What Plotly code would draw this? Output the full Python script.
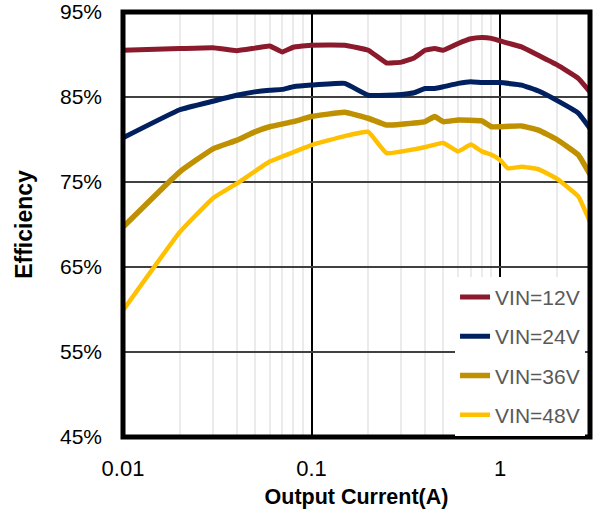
import plotly.graph_objects as go

# ---- data ----
x_12 = [0.01, 0.02, 0.03, 0.04, 0.05, 0.06, 0.07, 0.08, 0.1, 0.15, 0.2, 0.25, 0.3, 0.35,
        0.4, 0.45, 0.5, 0.6, 0.7, 0.8, 0.9, 1.0, 1.3, 1.6, 2.0, 2.6, 3.0]
eff_12 = [90.5, 90.7, 90.8, 90.45, 90.75, 91.0, 90.3, 90.85, 91.1, 91.1, 90.5, 89.0, 89.1, 89.6,
          90.5, 90.7, 90.5, 91.3, 91.85, 92.0, 91.9, 91.6, 90.9, 89.9, 88.8, 87.2, 85.6]

x_24 = [0.01, 0.02, 0.03, 0.04, 0.05, 0.06, 0.07, 0.08, 0.1, 0.15, 0.2, 0.25, 0.3, 0.35,
        0.4, 0.45, 0.5, 0.6, 0.7, 0.8, 1.0, 1.3, 1.6, 2.0, 2.6, 3.0]
eff_24 = [80.2, 83.5, 84.5, 85.2, 85.6, 85.8, 85.9, 86.2, 86.4, 86.6, 85.2, 85.2, 85.3, 85.5,
          86.0, 86.0, 86.2, 86.6, 86.8, 86.7, 86.7, 86.4, 85.7, 84.6, 83.1, 81.3]

x_36 = [0.01, 0.02, 0.03, 0.04, 0.05, 0.06, 0.08, 0.1, 0.15, 0.2, 0.25, 0.3, 0.4, 0.45,
        0.5, 0.6, 0.8, 0.9, 1.0, 1.3, 1.6, 2.0, 2.6, 3.0]
eff_36 = [69.7, 76.2, 78.9, 79.9, 80.9, 81.5, 82.1, 82.7, 83.2, 82.5, 81.7, 81.8, 82.1, 82.7,
          82.1, 82.3, 82.2, 81.5, 81.5, 81.6, 81.1, 80.0, 78.2, 75.9]

x_48 = [0.01, 0.02, 0.03, 0.04, 0.06, 0.07, 0.1, 0.15, 0.2, 0.25, 0.4, 0.5, 0.6, 0.7,
        0.8, 0.9, 1.0, 1.1, 1.3, 1.6, 2.0, 2.6, 3.0]
eff_48 = [59.9, 69.1, 73.1, 74.8, 77.4, 78.0, 79.35, 80.4, 80.9, 78.4, 79.1, 79.6, 78.6, 79.4,
          78.6, 78.2, 77.6, 76.6, 76.8, 76.5, 75.4, 73.3, 70.3]

series_names = ["VIN=12V", "VIN=24V", "VIN=36V", "VIN=48V"]
series_x = [x_12, x_24, x_36, x_48]
series_y = [eff_12, eff_24, eff_36, eff_48]
colors = ["#8B1A2C", "#002060", "#BF9000", "#FFC000"]
widths = [5, 5, 5.5, 4.5]

x_major = [0.01, 0.1, 1]
x_major_text = ["0.01", "0.1", "1"]
x_minor = [0.02, 0.03, 0.04, 0.05, 0.06, 0.07, 0.08, 0.09,
           0.2, 0.3, 0.4, 0.5, 0.6, 0.7, 0.8, 0.9, 2, 3]

FONT = "Liberation Sans, Arial, sans-serif"

fig = go.Figure()
for name, xs, ys, c, w in zip(series_names, series_x, series_y, colors, widths):
    fig.add_trace(go.Scatter(x=xs, y=ys, mode="lines", name=name, legendgroup=name,
                             line=dict(color=c, width=w, shape="spline", smoothing=0.3)))

fig.update_layout(
    width=595, height=516,
    margin=dict(l=123, r=5, t=12, b=79, autoexpand=False),
    paper_bgcolor="white", plot_bgcolor="white",
    font=dict(family=FONT, color="black"),
    showlegend=True,
    legend=dict(x=0.711, y=0.377, xanchor="left", yanchor="top",
                bgcolor="white", borderwidth=0, tracegroupgap=9,
                font=dict(size=21, color="#595959", family=FONT)),
    shapes=[dict(type="rect", xref="paper", yref="paper", x0=0, x1=1, y0=0, y1=1,
                 line=dict(color="black", width=5), layer="above")],
)

fig.update_xaxes(
    type="log", range=[-2, 0.47712], automargin=False,
    tickvals=x_major, ticktext=x_major_text,
    showgrid=True, gridcolor="black", gridwidth=2,
    minor=dict(tickvals=x_minor, showgrid=True, gridcolor="#ebebeb", gridwidth=2),
    zeroline=False, showline=False, ticks="",
    ticklabelstandoff=16,
    tickfont=dict(size=22, family=FONT, color="black"),
    title=dict(text="Output Current(A)", standoff=8,
               font=dict(size=21.5, family=FONT, weight="bold", color="black")),
)
fig.update_yaxes(
    range=[45, 95], tick0=45, dtick=10, ticksuffix="%", automargin=False,
    showgrid=True, gridcolor="#404040", gridwidth=1.5,
    zeroline=False, showline=False, ticks="",
    ticklabelstandoff=20,
    tickfont=dict(size=21, family=FONT, color="black"),
    title=dict(text="Efficiency", standoff=20,
               font=dict(size=23, family=FONT, weight="bold", color="black")),
)

fig.write_html("out.html", config={"displayModeBar": False},
               post_script="document.body.style.margin='0';")
